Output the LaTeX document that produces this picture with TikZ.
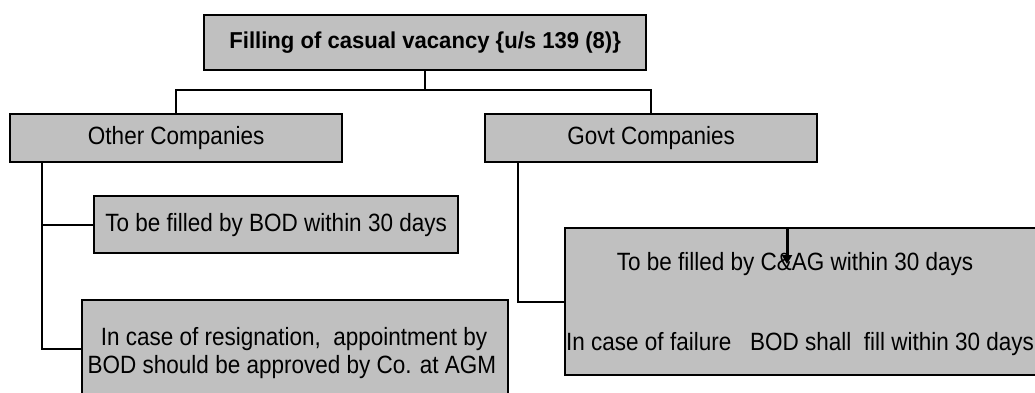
\documentclass[tikz,border=0pt]{standalone}
\usepackage{fontspec}
\setmainfont{Liberation Sans}
\newfontfamily\narrowfont[FakeStretch=0.9]{Liberation Sans}
\newfontfamily\titlefont[FakeStretch=0.96]{Liberation Sans}
\usetikzlibrary{arrows.meta,calc}
\definecolor{boxgray}{HTML}{C0C0C0}
\tikzset{
  box/.style={draw=black, line width=2.3pt, fill=boxgray, inner sep=0pt, anchor=north west,
    font=\narrowfont\fontsize{25}{28}\selectfont, align=center},
  titlebox/.style={box, font=\titlefont\bfseries\fontsize{23}{26}\selectfont},
  txt/.style={inner sep=0pt, font=\narrowfont\fontsize{25}{28}\selectfont},
  conn/.style={line width=2.3pt, draw=black},
}
\begin{document}
\begin{tikzpicture}[x=1pt,y={(0pt,-1pt)}]
\useasboundingbox (0,0) rectangle (1035,392);
\fill[white] (0,0) rectangle (1035,392);
\node[titlebox, minimum width=442pt, minimum height=55pt] (top) at (203,14) {Filling of casual vacancy \{u/s 139 (8)\}};
\node[box, minimum width=332pt, minimum height=48pt] (other) at (9,113) {Other Companies};
\node[box, minimum width=332pt, minimum height=48pt] (govt) at (484,113) {Govt Companies};
\node[box, minimum width=364pt, minimum height=57pt] (b1) at (93,195) {To be filled by BOD within 30 days};
\node[box, minimum width=426pt, minimum height=98pt] (b2) at (81,299) {};
\node[txt, anchor=base] (b2a) at (294,345) {In case of resignation,\ \ appointment by};
\node[txt, anchor=base] (b2b) at (292,373) {BOD should be approved by Co. at AGM};
\node[box, draw=none, minimum width=540pt, minimum height=145pt] (b3) at (565,228) {};
\draw[line width=2.3pt] (b3.north east) -- (b3.north west) -- (b3.south west) -- (b3.south east);
\node[txt, anchor=base] (b3a) at (795,270) {To be filled by C\&AG within 30 days};
\node[txt, anchor=base west] (b3b) at (566,350) {In case of failure\ \ \ BOD shall\ \ fill within 30 days};
\coordinate (lstem) at ($(other.south west)+(33,0)$);
\coordinate (rstem) at ($(govt.south west)+(34,0)$);
\coordinate (arrtop) at (787,229);
\coordinate (arrtip) at (787,264);
\draw[conn] (top.south) -- ++(0,19) -| (other.north);
\draw[conn] (top.south) -- ++(0,19) -| (govt.north);
\draw[conn] (lstem) |- (b1.west);
\draw[conn] (lstem) |- (b2.west);
\draw[conn] (rstem) |- (b3.west);
\draw[line width=3pt, -{Triangle[length=9pt,width=10pt]}] (arrtop) -- (arrtip);
\end{tikzpicture}
\end{document}
